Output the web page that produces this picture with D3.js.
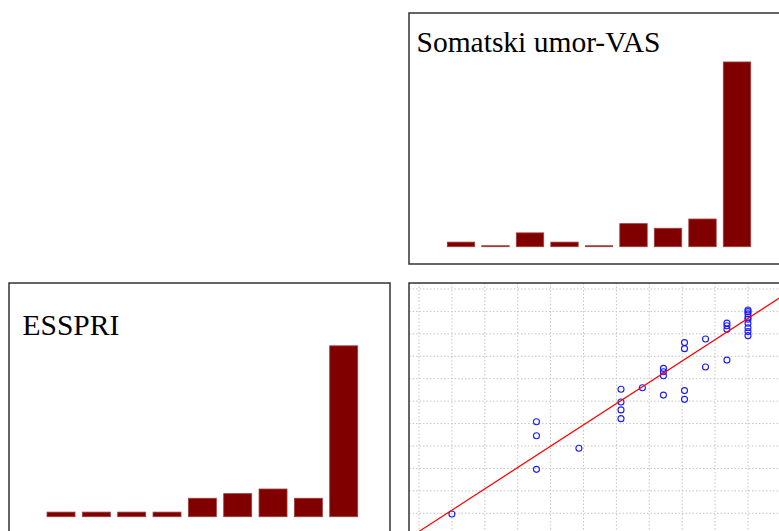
<!DOCTYPE html>
<html>
<head>
<meta charset="utf-8">
<script src="https://cdn.jsdelivr.net/npm/d3@7"></script>
<style>
    body { margin: 0; background: #fff; }
    svg { display: block; }
</style>
</head>
<body>
<div id="chart"></div>
<script>
// histogram bins (lower edges) and counts
const binStarts = [1, 2, 3, 4, 5, 6, 7, 8, 9];
const somatskiCounts = [1, 0, 3, 1, 0, 5, 4, 6, 40];
const essprCounts = [1, 1, 1, 1, 4, 5, 6, 4, 37];

// scatter points
const scatterX = [1.00,
    3.57, 3.57, 3.57,
    4.86,
    6.14, 6.14, 6.14, 6.14,
    6.79,
    7.43, 7.43, 7.43, 7.43,
    8.07, 8.07, 8.07, 8.07,
    8.71, 8.71,
    9.36, 9.36, 9.36, 9.36,
    10, 10, 10, 10, 10, 10, 10, 10, 10];
const scatterY = [-0.03,
    4.08, 3.46, 1.96,
    2.90,
    5.53, 4.96, 4.61, 4.22,
    5.60,
    6.46, 6.31, 6.13, 5.27,
    7.61, 7.34, 5.47, 5.08,
    7.77, 6.52,
    8.48, 8.36, 8.20, 6.83,
    9.06, 8.99, 8.89, 8.74, 8.65, 8.47, 8.27, 8.10, 7.92];
const fitIntercept = -0.81;
const fitSlope = 0.95;
const gridX = [0, 1, 2, 3, 4, 5, 6, 7, 8, 9, 10, 11];
const gridY = [0, 1, 2, 3, 4, 5, 6, 7, 8, 9, 10];

const W = 779, H = 531;
const panelW = 381, panelH = 251;

const svg = d3.select("#chart").append("svg")
    .attr("width", W)
    .attr("height", H);

function panel(x, y, id) {
    const g = svg.append("g").attr("transform", `translate(${x}, ${y})`);
    g.append("clipPath").attr("id", id)
        .append("rect").attr("width", panelW).attr("height", panelH);
    return g;
}

function drawHistogram(g, counts, xDomain, inset, title, titleX, titleY) {
    const xScale = d3.scaleLinear().domain(xDomain).range([0, panelW]);
    const yScale = d3.scaleLinear().domain([-3.74, 50.6]).range([panelH, 0]);

    g.selectAll("rect.bar")
        .data(binStarts.map((b, i) => ({start: b, count: counts[i]})))
        .enter()
        .append("rect")
            .attr("class", "bar")
            .attr("x", d => xScale(d.start) + inset)
            .attr("width", d => xScale(d.start + 1) - xScale(d.start) - 2 * inset)
            .attr("y", d => Math.min(yScale(d.count), yScale(0) - 1))
            .attr("height", d => Math.max(yScale(0) - yScale(d.count), 1))
            .attr("fill", "#800000")
            .attr("stroke", "#a04040")
            .attr("stroke-width", 0.8);

    g.append("text")
        .attr("x", titleX)
        .attr("y", titleY)
        .attr("font-family", "'Liberation Serif', 'Times New Roman', serif")
        .attr("font-size", "29.5px")
        .attr("fill", "#000")
        .text(title);

    g.append("rect")
        .attr("width", panelW).attr("height", panelH)
        .attr("fill", "none")
        .attr("stroke", "#333")
        .attr("stroke-width", 1.5);
}

function drawScatter(g, clipId) {
    const xScale = d3.scaleLinear().domain([-0.304, 11.277]).range([0, panelW]);
    const yScale = d3.scaleLinear().domain([-0.923, 10.267]).range([panelH, 0]);

    const grid = g.append("g")
        .attr("stroke", "#c4c4c4")
        .attr("stroke-width", 1)
        .attr("stroke-dasharray", "1.5,2");
    grid.selectAll("line.vx")
        .data(gridX)
        .enter()
        .append("line")
            .attr("x1", d => xScale(d)).attr("x2", d => xScale(d))
            .attr("y1", 0).attr("y2", panelH);
    grid.selectAll("line.hy")
        .data(gridY)
        .enter()
        .append("line")
            .attr("x1", 0).attr("x2", panelW)
            .attr("y1", d => yScale(d)).attr("y2", d => yScale(d));

    g.selectAll("circle")
        .data(scatterX.map((x, i) => ({x: x, y: scatterY[i]})))
        .enter()
        .append("circle")
            .attr("cx", d => xScale(d.x))
            .attr("cy", d => yScale(d.y))
            .attr("r", 3)
            .attr("fill", "none")
            .attr("stroke", "#1a1aff")
            .attr("stroke-width", 1.1);

    // regression line, clipped to the panel
    const [x0, x1] = xScale.domain();
    g.append("line")
        .attr("clip-path", `url(#${clipId})`)
        .attr("x1", xScale(x0)).attr("y1", yScale(fitIntercept + fitSlope * x0))
        .attr("x2", xScale(x1)).attr("y2", yScale(fitIntercept + fitSlope * x1))
        .attr("stroke", "#ff0000")
        .attr("stroke-width", 1.2);

    g.append("rect")
        .attr("width", panelW).attr("height", panelH)
        .attr("fill", "none")
        .attr("stroke", "#333")
        .attr("stroke-width", 1.5);
}

const topRight = panel(409, 13, "clip-tr");
drawHistogram(topRight, somatskiCounts, [-0.007, 11.036], 3.55, "Somatski umor-VAS", 7.5, 39);

const bottomLeft = panel(9, 283, "clip-bl");
drawHistogram(bottomLeft, essprCounts, [0.028, 10.81], 3.67, "ESSPRI", 13.5, 52);

const bottomRight = panel(409, 283, "clip-br");
drawScatter(bottomRight, "clip-br");
</script>
</body>
</html>
